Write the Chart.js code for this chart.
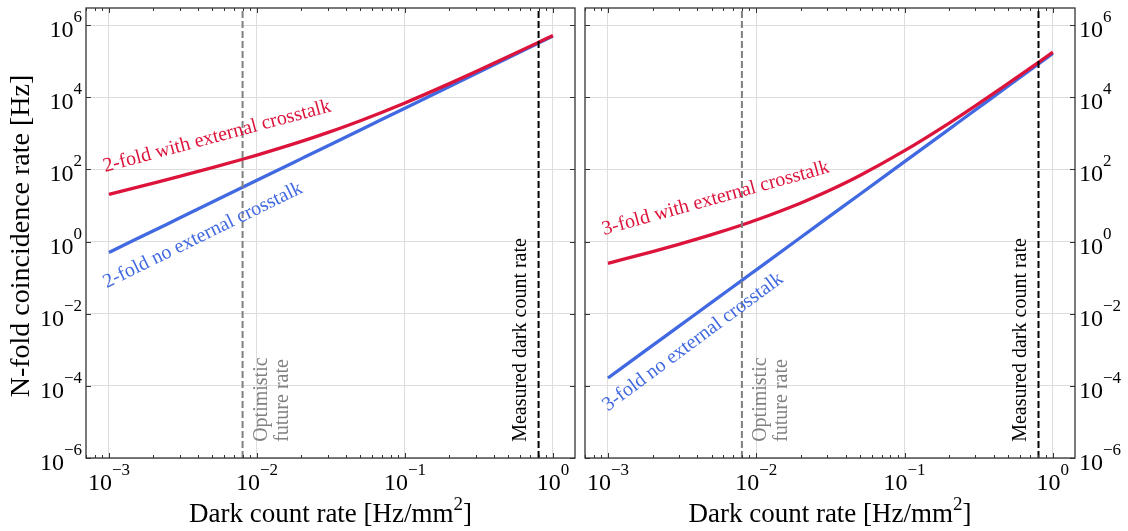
<!DOCTYPE html>
<html>
<head>
<meta charset="utf-8">
<title>N-fold coincidence rate vs dark count rate</title>
<script src="https://cdn.jsdelivr.net/npm/chart.js@4.4.0/dist/chart.umd.min.js"></script>
<style>
    html, body { margin: 0; padding: 0; background: #fff; }
    #wrap { position: relative; width: 1128px; height: 531px; }
    #leftBox { position: absolute; left: 0; top: 0; width: 580px; height: 531px; }
    #rightBox { position: absolute; left: 580px; top: 0; width: 548px; height: 531px; }
</style>
</head>
<body>
<div id="wrap">
    <div id="leftBox"><canvas id="leftChart"></canvas></div>
    <div id="rightBox"><canvas id="rightChart"></canvas></div>
</div>
<script>
// Dark count rate [Hz/mm^2] sample points
const darkRate = [0.001, 0.002, 0.003, 0.005, 0.008, 0.01, 0.02, 0.03, 0.05, 0.1, 0.2, 0.3, 0.5, 0.8, 1.0];

// 2-fold coincidence rate [Hz]
const twoFoldNoXT = [0.5, 2, 4.5, 12.5, 32, 50, 200, 450, 1250, 5000, 20000, 45000, 125000, 320000, 500000];
const twoFoldXT = [20.5, 42, 64.5, 112, 192, 250, 600, 1050, 2250, 7000, 24000, 51000, 135000, 336000, 520000];

// 3-fold coincidence rate [Hz]
const threeFoldNoXT = [1.65e-4, 1.32e-3, 4.46e-3, 0.0206, 0.0845, 0.165, 1.32, 4.46, 20.6, 165, 1320, 4455, 20600, 84500, 165000];
const threeFoldXT = [0.25, 0.53, 0.84, 1.56, 2.89, 3.96, 11.8, 24.4, 68, 332, 1940, 5810, 24300, 93800, 179600];

// Reference rates (vertical lines)
const optimisticRate = 0.008;
const measuredRate = 0.8;

// Axis limits and ticks
const xMin = 7e-4, xMax = 1.41;
const yMin = 1e-6, yMax = 3e6;
const xMajorTicks = [1e-3, 1e-2, 1e-1, 1e0];
const xMinorTicks = [7e-4, 8e-4, 9e-4,
    2e-3, 3e-3, 4e-3, 5e-3, 6e-3, 7e-3, 8e-3, 9e-3,
    2e-2, 3e-2, 4e-2, 5e-2, 6e-2, 7e-2, 8e-2, 9e-2,
    2e-1, 3e-1, 4e-1, 5e-1, 6e-1, 7e-1, 8e-1, 9e-1];
const yMajorTicks = [1e-6, 1e-4, 1e-2, 1e0, 1e2, 1e4, 1e6];

const SERIF = '"Liberation Serif", "DejaVu Serif", serif';
const RED = '#DC143C';
const BLUE = '#4169E1';
const GRAY = '#808080';

/**
 * Draw "10" with a raised exponent, y is the baseline of "10"
 */
function drawPower(ctx, exp, x, y, align) {
    const expText = exp < 0 ? '\u2212' + Math.abs(exp) : String(exp);
    ctx.font = `24px ${SERIF}`;
    const wBase = ctx.measureText('10').width;
    ctx.font = `17px ${SERIF}`;
    const wExp = ctx.measureText(expText).width;
    const total = wBase + wExp;
    let x0 = x;
    if (align === 'center') x0 = x - total / 2;
    else if (align === 'right') x0 = x - total;
    ctx.textAlign = 'left';
    ctx.textBaseline = 'alphabetic';
    ctx.font = `24px ${SERIF}`;
    ctx.fillText('10', x0, y);
    ctx.font = `17px ${SERIF}`;
    ctx.fillText(expText, x0 + wBase, y - 15);
}

// Frame, inward ticks, power-of-ten labels, titles and text notes
function makeDecor(cfg) {
    return {
        id: 'panelDecor',
        afterDatasetsDraw(chart) {
            const { ctx, chartArea: a, scales } = chart;
            const xs = scales.x, ys = scales.y;
            ctx.save();

            // text notes, anchored in data coordinates
            cfg.notes.forEach(n => {
                ctx.save();
                ctx.translate(xs.getPixelForValue(n.x), ys.getPixelForValue(n.y));
                ctx.rotate(-n.angle * Math.PI / 180);
                ctx.font = `20px ${SERIF}`;
                ctx.fillStyle = n.color;
                ctx.textAlign = 'left';
                ctx.textBaseline = 'alphabetic';
                n.lines.forEach((t, i) => ctx.fillText(t, 0, i * 21));
                ctx.restore();
            });

            // frame
            ctx.strokeStyle = '#333';
            ctx.lineWidth = 1.3;
            ctx.strokeRect(a.left, a.top, a.right - a.left, a.bottom - a.top);

            // inward ticks
            ctx.lineWidth = 1;
            ctx.beginPath();
            xMajorTicks.forEach(v => {
                const p = Math.round(xs.getPixelForValue(v)) + 0.5;
                ctx.moveTo(p, a.bottom); ctx.lineTo(p, a.bottom - 5);
                ctx.moveTo(p, a.top); ctx.lineTo(p, a.top + 5);
            });
            xMinorTicks.forEach(v => {
                const p = Math.round(xs.getPixelForValue(v)) + 0.5;
                ctx.moveTo(p, a.bottom); ctx.lineTo(p, a.bottom - 3);
                ctx.moveTo(p, a.top); ctx.lineTo(p, a.top + 3);
            });
            yMajorTicks.forEach(v => {
                const p = Math.round(ys.getPixelForValue(v)) + 0.5;
                ctx.moveTo(a.left, p); ctx.lineTo(a.left + 5, p);
                ctx.moveTo(a.right, p); ctx.lineTo(a.right - 5, p);
            });
            ctx.stroke();

            // tick labels
            ctx.fillStyle = '#000';
            xMajorTicks.forEach(v => {
                drawPower(ctx, Math.round(Math.log10(v)), xs.getPixelForValue(v), a.bottom + 32, 'center');
            });
            yMajorTicks.forEach(v => {
                const p = ys.getPixelForValue(v);
                const e = Math.round(Math.log10(v));
                if (cfg.ySide === 'left') drawPower(ctx, e, a.left - 4, p + 12, 'right');
                else drawPower(ctx, e, a.right + 4, p + 12, 'left');
            });

            // x title with superscript
            const main = 'Dark count rate [Hz/mm';
            ctx.font = `27px ${SERIF}`;
            const w1 = ctx.measureText(main).width;
            const w3 = ctx.measureText(']').width;
            ctx.font = `19px ${SERIF}`;
            const w2 = ctx.measureText('2').width;
            const tx = (a.left + a.right) / 2 - (w1 + w2 + w3) / 2;
            const ty = a.bottom + 64;
            ctx.textAlign = 'left';
            ctx.font = `27px ${SERIF}`;
            ctx.fillText(main, tx, ty);
            ctx.font = `19px ${SERIF}`;
            ctx.fillText('2', tx + w1, ty - 12);
            ctx.font = `27px ${SERIF}`;
            ctx.fillText(']', tx + w1 + w2, ty);

            // y title
            if (cfg.yTitle) {
                ctx.save();
                ctx.translate(29, (a.top + a.bottom) / 2 + 3);
                ctx.rotate(-Math.PI / 2);
                ctx.textAlign = 'center';
                ctx.font = `28px ${SERIF}`;
                ctx.fillText(cfg.yTitle, 0, 0);
                ctx.restore();
            }
            ctx.restore();
        }
    };
}

function vline(x, color) {
    return {
        data: [{ x: x, y: yMin }, { x: x, y: yMax }],
        borderColor: color,
        borderWidth: 2,
        borderDash: [7, 3],
        pointRadius: 0,
        order: 0
    };
}

function curve(values, color, order) {
    return {
        data: darkRate.map((x, i) => ({ x: x, y: values[i] })),
        borderColor: color,
        borderWidth: 3.3,
        pointRadius: 0,
        cubicInterpolationMode: 'monotone',
        order: order
    };
}

function makeChart(canvasId, withXT, noXT, padding, decor) {
    return new Chart(document.getElementById(canvasId), {
        type: 'line',
        data: {
            datasets: [
                vline(optimisticRate, GRAY),
                vline(measuredRate, '#000'),
                curve(withXT, RED, 1),
                curve(noXT, BLUE, 2)
            ]
        },
        options: {
            responsive: true,
            maintainAspectRatio: false,
            animation: false,
            events: [],
            layout: { padding: padding },
            plugins: {
                legend: { display: false },
                tooltip: { enabled: false }
            },
            scales: {
                x: {
                    type: 'logarithmic',
                    min: xMin,
                    max: xMax,
                    ticks: { display: false },
                    grid: { color: '#dddddd', lineWidth: 1, drawTicks: false },
                    border: { display: false },
                    afterBuildTicks: (s) => { s.ticks = xMajorTicks.map(v => ({ value: v })); },
                    afterFit: (s) => { s.height = 0; }
                },
                y: {
                    type: 'logarithmic',
                    min: yMin,
                    max: yMax,
                    ticks: { display: false },
                    grid: { color: '#dddddd', lineWidth: 1, drawTicks: false },
                    border: { display: false },
                    afterBuildTicks: (s) => { s.ticks = yMajorTicks.map(v => ({ value: v })); },
                    afterFit: (s) => { s.width = 0; }
                }
            }
        },
        plugins: [makeDecor(decor)]
    });
}

makeChart('leftChart', twoFoldXT, twoFoldNoXT,
    { left: 86, right: 5, top: 8, bottom: 73 },
    {
        ySide: 'left',
        yTitle: 'N-fold coincidence rate [Hz]',
        notes: [
            { x: 9.4e-4, y: 85, angle: 15, color: RED, lines: ['2-fold with external crosstalk'] },
            { x: 9.65e-4, y: 0.051, angle: 26, color: BLUE, lines: ['2-fold no external crosstalk'] },
            { x: 0.0117, y: 2.8e-6, angle: 90, color: GRAY, lines: ['Optimistic', 'future rate'] },
            { x: 0.66, y: 2.8e-6, angle: 90, color: '#000', lines: ['Measured dark count rate'] }
        ]
    });

makeChart('rightChart', threeFoldXT, threeFoldNoXT,
    { left: 5, right: 53, top: 8, bottom: 73 },
    {
        ySide: 'right',
        yTitle: null,
        notes: [
            { x: 9.4e-4, y: 1.53, angle: 15.5, color: RED, lines: ['3-fold with external crosstalk'] },
            { x: 1.0e-3, y: 1.95e-5, angle: 36.5, color: BLUE, lines: ['3-fold no external crosstalk'] },
            { x: 0.0117, y: 2.8e-6, angle: 90, color: GRAY, lines: ['Optimistic', 'future rate'] },
            { x: 0.66, y: 2.8e-6, angle: 90, color: '#000', lines: ['Measured dark count rate'] }
        ]
    });
</script>
</body>
</html>
